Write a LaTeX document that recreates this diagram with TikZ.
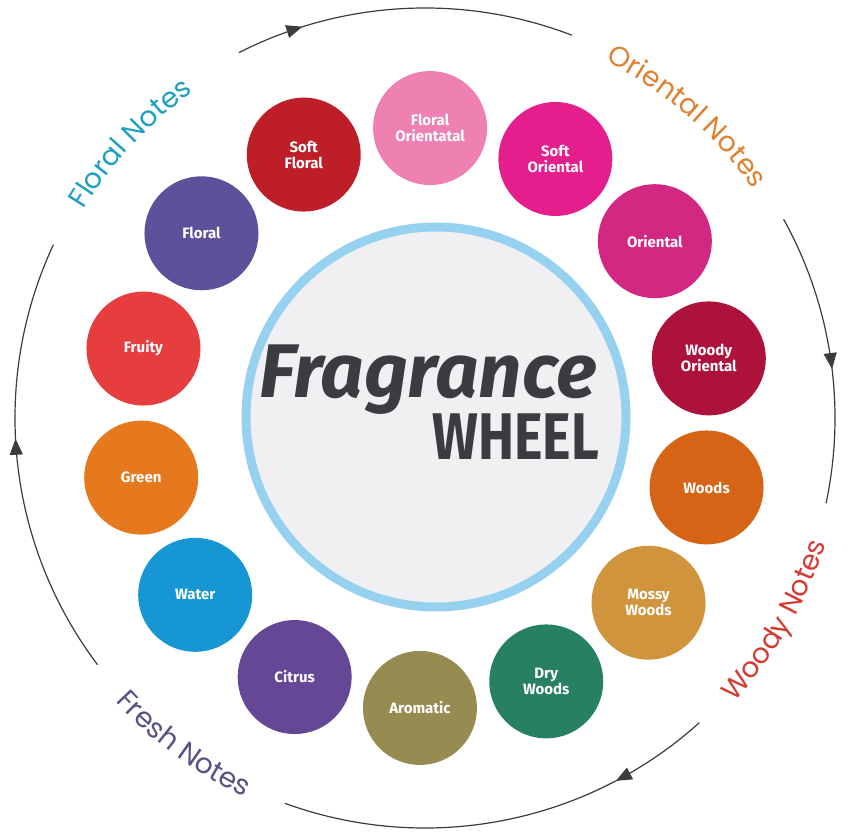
\documentclass[tikz,border=0pt]{standalone}
\usepackage{fontspec}
\setmainfont{Fira Sans}
\newfontfamily\notesfont{Poppins}
\usetikzlibrary{calc,arrows.meta,decorations.text,decorations.markings}
\definecolor{cFlOr}{RGB}{238,128,178}
\definecolor{cSoOr}{RGB}{228,30,140}
\definecolor{cOr}{RGB}{210,40,130}
\definecolor{cWoOr}{RGB}{172,18,60}
\definecolor{cWoods}{RGB}{214,100,22}
\definecolor{cMoss}{RGB}{208,148,60}
\definecolor{cDry}{RGB}{40,128,100}
\definecolor{cArom}{RGB}{150,140,82}
\definecolor{cCitr}{RGB}{100,72,150}
\definecolor{cWater}{RGB}{22,150,210}
\definecolor{cGreen}{RGB}{230,120,30}
\definecolor{cFruit}{RGB}{230,62,62}
\definecolor{cFloral}{RGB}{95,80,155}
\definecolor{cSoFl}{RGB}{190,30,40}
\definecolor{tFloral}{RGB}{30,160,190}
\definecolor{tOrient}{RGB}{222,130,50}
\definecolor{tWoody}{RGB}{210,60,50}
\definecolor{tFresh}{RGB}{90,80,130}
\definecolor{ring}{RGB}{150,210,240}
\definecolor{hub}{RGB}{240,240,242}
\definecolor{ink}{RGB}{60,60,64}
\tikzset{
  note/.style = {circle, minimum size=114pt, inner sep=0pt, text=white,
    font=\fontsize{15}{16}\selectfont\bfseries, align=center},
  wheelarc/.style = {draw=ink, line width=1.2pt, postaction={decorate},
    decoration={markings, mark=at position #1 with
      {\arrow{Triangle[length=16pt,width=13pt]}}}},
}
\begin{document}
\begin{tikzpicture}[x=1pt,y=1pt]
  \useasboundingbox (0,0) rectangle (850,835);
  \coordinate (c) at (425,417);
  % hub
  \node[circle, draw=ring, line width=9pt, fill=hub, minimum size=380pt] (hub) at (436,418) {};
  \node[font=\fontsize{76}{76}\selectfont\bfseries\itshape, text=ink] (frag) at (428,455) {Fragrance};
  \node[font=\fontsize{66}{66}\selectfont\bfseries, text=ink, xscale=0.82, anchor=north east] (wheel) at (602,425) {WHEEL};
  % notes
  \foreach \lbl/\col [count=\i from 0] in {
      Floral\\Orientatal/cFlOr, Soft\\Oriental/cSoOr, Oriental/cOr,
      Woody\\Oriental/cWoOr, Woods/cWoods, Mossy\\Woods/cMoss,
      Dry\\Woods/cDry, Aromatic/cArom, Citrus/cCitr, Water/cWater,
      Green/cGreen, Fruity/cFruit, Floral/cFloral, Soft\\Floral/cSoFl}
    \node[note, fill=\col] (n\i) at ($(c)+({89-25.714*\i}:290)$) {\lbl};
  % outer ring
  \path[wheelarc=0.2]  (c) ++(117:410) arc[start angle=117, end angle=69, radius=410];
  \path[wheelarc=0.54] (c) ++(29:410) arc[start angle=29, end angle=-12, radius=410];
  \path[wheelarc=0.23] (c) ++(-48:410) arc[start angle=-48, end angle=-110, radius=410];
  \path[wheelarc=0.55] (c) ++(217:410) arc[start angle=217, end angle=155, radius=410];
  % ring labels
  \path[decorate, decoration={text along path, text align=center,
      text={|\notesfont\fontsize{28}{28}\selectfont\color{tFloral}|Floral Notes}}]
    (c) ++(156:400) arc[start angle=156, end angle=118, radius=400];
  \path[decorate, decoration={text along path, text align=center,
      text={|\notesfont\fontsize{28}{28}\selectfont\color{tOrient}|Oriental Notes}}]
    (c) ++(71:400) arc[start angle=71, end angle=27, radius=400];
  \path[decorate, decoration={text along path, text align=center,
      text={|\notesfont\fontsize{28}{28}\selectfont\color{tWoody}|Woody Notes}}]
    (c) ++(-50:420) arc[start angle=-50, end angle=-10, radius=420];
  \path[decorate, decoration={text along path, text align=center,
      text={|\notesfont\fontsize{28}{28}\selectfont\color{tFresh}|Fresh Notes}}]
    (c) ++(216:420) arc[start angle=216, end angle=251, radius=420];
\end{tikzpicture}
\end{document}
